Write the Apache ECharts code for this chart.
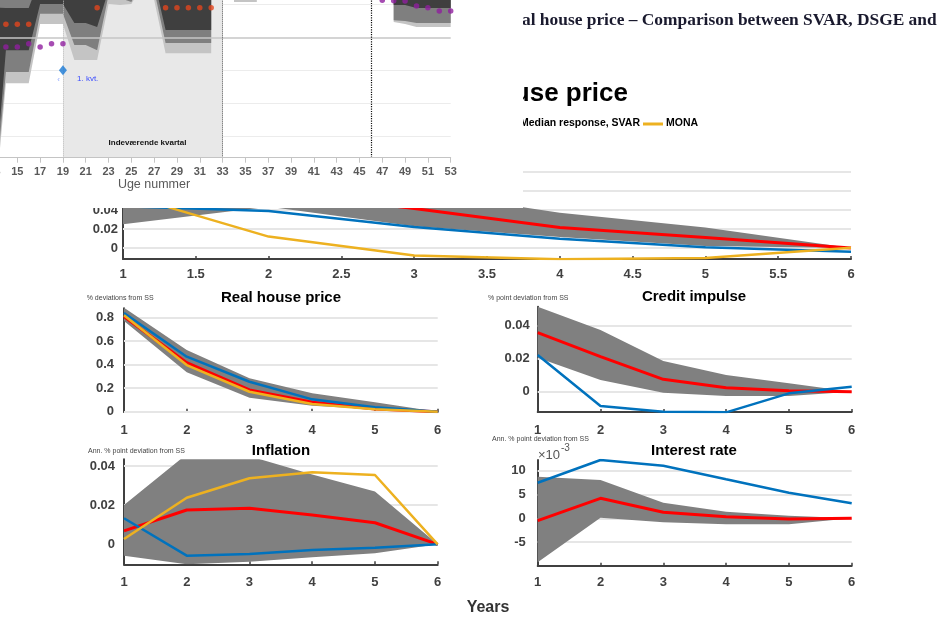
<!DOCTYPE html>
<html><head><meta charset="utf-8">
<script src="https://cdn.jsdelivr.net/npm/echarts@6/dist/echarts.min.js"></script>
<style>html,body{margin:0;padding:0;background:#fff}#c{width:948px;height:621px}</style>
</head><body><div id="c"></div><script>
// ---------- DATA ----------
const years = [1, 2, 3, 4, 5, 6];
const halfYearTicks = [1, 1.5, 2, 2.5, 3, 3.5, 4, 4.5, 5, 5.5, 6];

// Top (partly hidden) panel
const topTicks = [0, 0.02, 0.04, 0.06, 0.08];
const topBandLow  = [0.025, 0.0435, 0.023, 0.0115, 0.002, 0];
const topBandHigh = [0.10, 0.08, 0.06, 0.037, 0.0215, 0];
const topSvar = [0.08, 0.06, 0.0415, 0.0215, 0.011, 0];
const topDsge = [0.044, 0.039, 0.022, 0.0098, 0.0007, -0.0039];
const topMona = [0.057, 0.012, -0.008, -0.0118, -0.0105, 0.0003];

// Real house price
const rhpTicks = [0, 0.2, 0.4, 0.6, 0.8];
const rhpBandLow  = [0.772, 0.335, 0.119, 0.051, 0.02, 0];
const rhpBandHigh = [0.885, 0.525, 0.284, 0.156, 0.08, 0];
const rhpSvar = [0.81, 0.417, 0.185, 0.08, 0.023, 0];
const rhpDsge = [0.84, 0.468, 0.255, 0.105, 0.037, 0];
const rhpMona = [0.82, 0.397, 0.17, 0.066, 0.02, 0];

// Credit impulse
const ciTicks = [0, 0.02, 0.04];
const ciBandLow  = [0.0205, 0.0071, -0.0006, -0.0026, -0.0026, 0];
const ciBandHigh = [0.0515, 0.0374, 0.0186, 0.0101, 0.0051, 0];
const ciSvar = [0.0358, 0.0212, 0.0075, 0.0024, 0.0006, 0];
const ciDsge = [0.0222, -0.0087, -0.0121, -0.0125, -0.001, 0.003];

// Inflation
const infTicks = [0, 0.02, 0.04];
const infBandLow  = [-0.0058, -0.0102, -0.0089, -0.0066, -0.0046, 0];
const infBandHigh = [0.0201, 0.046, 0.045, 0.0357, 0.0269, 0];
const infSvar = [0.0069, 0.0175, 0.0184, 0.015, 0.011, 0];
const infDsge = [0.0133, -0.0058, -0.005, -0.0029, -0.0017, 0];
const infMona = [0.0027, 0.0238, 0.0337, 0.0368, 0.0354, 0];

// Interest rate (x 10^-3)
const irTicks = [-5, 0, 5, 10];
const irBandLow  = [-9.24, 0.13, -0.84, -1.26, -1.26, 0];
const irBandHigh = [8.74, 8.05, 3.28, 1.39, 0.55, 0];
const irSvar = [-0.5, 4.2, 1.26, 0.34, -0.15, 0];
const irDsge = [7.48, 12.25, 11.05, 8.19, 5.38, 3.15];

// Inset: weekly nowcast fan chart
const weeks = [13,14,15,16,17,18,19,20,21,22,23,24,25,26,27,28,29,30,31,32,33,34,35,36,37,38,39,40,41,42,43,44,45,46,47,48,49,50,51,52,53];
const weekTicks = [13,15,17,19,21,23,25,27,29,31,33,35,37,39,41,43,45,47,49,51,53];
const fanGridTicks = [1, -1, -2, -3];
const fanZero = [0];
const N = null;
const fanLightLo = [-5.2,-1.39,-1.39,-1.39,0.40,0.40,0.40,-0.69,-0.69,-0.69,1.01,0.98,1.01,1.6,1.13,-0.48,-0.48,-0.48,-0.48,-0.48,N,1.07,1.07,1.07,N,N,N,N,N,N,N,N,N,N,N,0.46,0.40,0.31,0.31,0.31,0.31];
const fanMedLo   = [-4.9,-1.05,-1.05,-1.05,0.71,0.71,0.71,-0.23,-0.23,-0.39,1.28,1.19,1.07,1.8,1.43,-0.17,-0.17,-0.17,-0.17,-0.17,N,1.28,1.28,1.28,N,N,N,N,N,N,N,N,N,N,N,0.52,0.49,0.43,0.43,0.43,0.43];
const fanDarkLo  = [-4.6,-0.39,-0.39,-0.39,1.01,1.01,1.01,0.43,0.43,0.31,1.43,1.43,1.19,2.0,1.74,0.22,0.22,0.22,0.22,0.22,N,1.5,1.5,1.5,N,N,N,N,N,N,N,N,N,N,N,0.98,0.98,0.89,0.89,0.89,0.89];
const fanDarkHi  = [0.9,0.89,0.89,0.89,1.8,1.8,1.8,1.8,1.8,1.8,2.2,2.2,2.2,2.8,2.5,1.58,1.58,1.58,1.58,1.58,N,2.2,2.2,2.2,N,N,N,N,N,N,N,N,N,N,N,1.6,1.6,1.6,1.6,1.6,1.6];
const fanMedHi   = [1.2,1.22,1.22,1.22,2.1,2.1,2.1,2.1,2.1,2.1,2.5,2.5,2.5,3.1,2.8,1.9,1.9,1.9,1.9,1.9,N,2.5,2.5,2.5,N,N,N,N,N,N,N,N,N,N,N,1.9,1.9,1.9,1.9,1.9,1.9];
const fanLightHi = [1.5,1.6,1.6,1.6,2.4,2.4,2.4,2.4,2.4,2.4,2.8,2.8,2.8,3.4,3.1,2.2,2.2,2.2,2.2,2.2,N,2.8,2.8,2.8,N,N,N,N,N,N,N,N,N,N,N,2.2,2.2,2.2,2.2,2.2,2.2];
const orangeWeeks = [14,15,16,22,28,29,30,31,32];
const orangeVals  = [0.394,0.394,0.394,0.897,0.897,0.897,0.897,0.897,0.897];
const purpleWeeks = [14,15,16,17,18,19,47,48,49,50,51,52,53];
const purpleVals  = [-0.294,-0.294,-0.194,-0.294,-0.194,-0.194,1.125,1.11,1.10,0.948,0.897,0.797,0.797];
const diamondWeek = [19];
const diamondVal  = [-1.0];
const quarterStart = 19, quarterEnd = 33, markWeek = 46;

// ---------- HELPERS ----------
const FONT = "'Liberation Sans', Arial, Helvetica, sans-serif";
const AX = '#404040';
const RED = '#ff0000', BLUE = '#0072bd', YEL = '#edb120', BAND = '#808080', GRIDC = '#e6e6e6';
const pairs = (xs, ys) => xs.map((x, i) => [x, ys[i] == null ? '-' : ys[i]]);
const fmt = v => String(+(+v).toFixed(5));

// polygons (one per contiguous run of non-null values) between lo and hi, via the axis scales
function bandPolygons(api, xs, lo, hi) {
  const polys = []; let run = [];
  const flush = () => {
    if (run.length > 1) {
      const up = run.map(i => api.coord([xs[i], hi[i]]));
      const dn = run.slice().reverse().map(i => api.coord([xs[i], lo[i]]));
      polys.push(up.concat(dn));
    }
    run = [];
  };
  xs.forEach((x, i) => { if (lo[i] == null || hi[i] == null) flush(); else run.push(i); });
  flush();
  return polys;
}
function bandSeries(axisIdx, xs, layers, z) {
  return {type:'custom', xAxisIndex:axisIdx, yAxisIndex:axisIdx, clip:true, silent:true, z:z,
    data: xs.map((x, i) => [x, layers[0].lo[i] == null ? '-' : layers[0].lo[i], layers[0].hi[i] == null ? '-' : layers[0].hi[i]]),
    encode:{x:0, y:[1, 2]},
    renderItem: function (params, api) {
      if (params.dataIndex !== 0) return null;
      const children = [];
      layers.forEach(L => bandPolygons(api, xs, L.lo, L.hi).forEach(pts =>
        children.push({type:'polygon', shape:{points:pts}, style:{fill:L.color}})));
      return {type:'group', children:children};
    }};
}

const panels = [
  {grid:{left:123, top:172, width:728, height:87}, yMin:-0.0116, yMax:0.08, xTicks:halfYearTicks, yTicks:topTicks, xm:9, ym:5,
   lo:topBandLow, hi:topBandHigh, svar:topSvar, dsge:topDsge, mona:topMona},
  {grid:{left:124, top:308.3, width:313.7, height:103.4}, yMin:0, yMax:0.88, xTicks:years, yTicks:rhpTicks, xm:12, ym:10,
   lo:rhpBandLow, hi:rhpBandHigh, svar:rhpSvar, dsge:rhpDsge, mona:rhpMona},
  {grid:{left:537.7, top:306.7, width:314, height:105.3}, yMin:-0.0123, yMax:0.0515, xTicks:years, yTicks:ciTicks, xm:12, ym:8,
   lo:ciBandLow, hi:ciBandHigh, svar:ciSvar, dsge:ciDsge, mona:null},
  {grid:{left:124, top:459.3, width:313.7, height:105}, yMin:-0.0102, yMax:0.0434, xTicks:years, yTicks:infTicks, xm:11.5, ym:9,
   lo:infBandLow, hi:infBandHigh, svar:infSvar, dsge:infDsge, mona:infMona},
  {grid:{left:537.7, top:460, width:314, height:105.7}, yMin:-9.96, yMax:12.25, xTicks:years, yTicks:irTicks, xm:10, ym:12,
   lo:irBandLow, hi:irBandHigh, svar:irSvar, dsge:irDsge, mona:null}
];

const grids = [], xAxes = [], yAxes = [], series = [];
panels.forEach((p, i) => {
  grids.push(Object.assign({show:false, containLabel:false, outerBoundsMode:'none'}, p.grid));
  xAxes.push({gridIndex:i, type:'value', min:1, max:6, position:'bottom',
    axisLine:{show:true, onZero:false, lineStyle:{color:AX, width:2}},
    axisTick:{show:true, inside:true, length:3, customValues:p.xTicks, lineStyle:{color:AX, width:1.5}},
    axisLabel:{show:true, customValues:p.xTicks, margin:p.xm, color:AX, fontWeight:'bold', fontSize:13, fontFamily:FONT, formatter:fmt},
    splitLine:{show:false}});
  yAxes.push({gridIndex:i, type:'value', min:p.yMin, max:p.yMax,
    axisLine:{show:true, onZero:false, lineStyle:{color:AX, width:2}},
    axisTick:{show:true, inside:true, length:4, customValues:p.yTicks, lineStyle:{color:AX, width:1.5}},
    axisLabel:{show:true, customValues:p.yTicks, margin:p.ym, color:AX, fontWeight:'bold', fontSize:13, fontFamily:FONT, formatter:fmt},
    splitLine:{show:false}});
  series.push(bandSeries(i, years, [{lo:p.lo, hi:p.hi, color:BAND}], 2));
  series.push({type:'line', xAxisIndex:i, yAxisIndex:i, data:pairs(years, p.svar), symbol:'none', silent:true,
    lineStyle:{color:RED, width:3}, z:3,
    markLine:{silent:true, symbol:['none','none'], label:{show:false}, z:1, animation:false,
      lineStyle:{color:GRIDC, width:2, type:'solid'}, emphasis:{disabled:true},
      data:p.yTicks.map(v => ({yAxis:v}))}});
  series.push({type:'line', xAxisIndex:i, yAxisIndex:i, data:pairs(years, p.dsge), symbol:'none', silent:true,
    lineStyle:{color:BLUE, width:2.5}, z:3});
  if (p.mona) series.push({type:'line', xAxisIndex:i, yAxisIndex:i, data:pairs(years, p.mona), symbol:'none', silent:true,
    lineStyle:{color:YEL, width:2.5}, z:3});
});

// ---- inset ----
const I = 5;
const yInsetMin = -3.648, yInsetMax = 1.13;
grids.push({show:false, containLabel:false, outerBoundsMode:'none', left:-5.5, top:0, width:456.2, height:157.7});
xAxes.push({gridIndex:I, type:'value', min:13, max:53, position:'bottom', z:105,
  axisLine:{show:true, onZero:false, lineStyle:{color:'#c4c4c4', width:1}},
  axisTick:{show:true, inside:false, length:5, customValues:weekTicks, lineStyle:{color:'#c4c4c4', width:1}},
  axisLabel:{show:true, customValues:weekTicks, margin:9, color:'#595959', fontWeight:'bold', fontSize:11, fontFamily:FONT},
  splitLine:{show:false}});
yAxes.push({gridIndex:I, type:'value', min:yInsetMin, max:yInsetMax, show:false});

series.push(bandSeries(I, weeks, [
  {lo:fanLightLo, hi:fanLightHi, color:'#c4c4c4'},
  {lo:fanMedLo, hi:fanMedHi, color:'#7f7f7f'},
  {lo:fanDarkLo, hi:fanDarkHi, color:'#3f3f3f'}
], 103));
series.push({type:'scatter', xAxisIndex:I, yAxisIndex:I, data:pairs(orangeWeeks, orangeVals), symbol:'circle', symbolSize:5.5,
  itemStyle:{color:'#e2461e'}, silent:true, z:106,
  markLine:{silent:true, symbol:['none','none'], label:{show:false}, z:101, animation:false,
    lineStyle:{color:'#ececec', width:1, type:'solid'}, data:fanGridTicks.map(v => ({yAxis:v}))},
  markArea:{silent:true, z:102, itemStyle:{color:'#e8e8e8'}, label:{show:false},
    data:[[{xAxis:quarterStart}, {xAxis:quarterEnd}]]}});
series.push({type:'scatter', xAxisIndex:I, yAxisIndex:I, data:pairs(purpleWeeks, purpleVals), symbol:'circle', symbolSize:5.5,
  itemStyle:{color:'#901f9f'}, silent:true, z:106,
  markLine:{silent:true, symbol:['none','none'], label:{show:false}, z:104, animation:false,
    data:[
      {yAxis:fanZero[0], lineStyle:{color:'#c6c6c6', width:1.5, type:'solid'}},
      {xAxis:quarterStart, lineStyle:{color:'#bdbdbd', width:1, type:'dotted'}},
      {xAxis:quarterEnd, lineStyle:{color:'#555555', width:1, type:'dotted'}},
      {xAxis:markWeek, lineStyle:{color:'#111111', width:1.2, type:'dotted'}}
    ]}});
series.push({type:'scatter', xAxisIndex:I, yAxisIndex:I, data:pairs(diamondWeek, diamondVal), symbol:'diamond', symbolSize:[8,10],
  itemStyle:{color:'#1878d4'}, silent:true, z:106});

// ---------- TEXTS ----------
function txt(t, x, y, font, fill, align, valign, z) {
  return {type:'text', z:z || 0, silent:true, style:{text:t, x:x, y:y, font:font, fill:fill,
    align:align || 'left', textAlign:align || 'left', verticalAlign:valign || 'middle', textVerticalAlign:valign || 'middle'}};
}
const B = (s) => 'bold ' + s + 'px ' + FONT;
const R = (s) => s + 'px ' + FONT;
const graphics = [
  txt('Real house price \u2013 Comparison between SVAR, DSGE and', 501.7, 20.8, "bold 17.4px 'Liberation Serif', 'Times New Roman', serif", '#1a1a2e'),
  txt('Real house price', 628, 94, B(26), '#000', 'right'),
  {type:'line', z:0, silent:true, shape:{x1:490, y1:124, x2:512, y2:124}, style:{stroke:RED, lineWidth:3}},
  txt('Median response, SVAR', 640, 123.5, B(10.5), '#000', 'right'),
  {type:'line', z:0, silent:true, shape:{x1:643, y1:124, x2:663, y2:124}, style:{stroke:YEL, lineWidth:3}},
  txt('MONA', 666, 123.5, B(10.5), '#000'),
  txt('Real house price', 281, 297.5, B(15), '#000', 'center'),
  txt('% deviations from SS', 86.7, 297.7, R(7), '#444'),
  txt('Credit impulse', 694, 296.5, B(15), '#000', 'center'),
  txt('% point deviation from SS', 488, 297.7, R(7), '#444'),
  txt('Inflation', 281, 450.5, B(15), '#000', 'center'),
  txt('Ann. % point deviation from SS', 88, 451, R(7), '#444'),
  txt('Interest rate', 694, 450.5, B(15), '#000', 'center'),
  txt('Ann. % point deviation from SS', 492, 439, R(7), '#444'),
  txt('\u00d710', 538, 455, R(13), '#555'),
  txt('-3', 561, 448.5, R(10), '#555'),
  txt('Years', 488, 607.7, B(16), '#333', 'center'),
  // cover (the inset sits on top of the main figure)
  {type:'rect', z:100, silent:true, shape:{x:0, y:0, width:523, height:208}, style:{fill:'#ffffff'}},
  txt('Uge nummer', 154, 184.6, R(12.5), '#595959', 'center', 'middle', 107),
  txt('Indev\u00e6rende kvartal', 147.5, 142.7, B(8), '#111', 'center', 'middle', 107),
  txt('1. kvt.', 77, 79, R(8), '#3b4cff', 'left', 'middle', 107),
  txt('\u2039', 58.5, 79.5, R(8), '#8fa8ff', 'center', 'middle', 107)
];

const chart = echarts.init(document.getElementById('c'), null, {renderer:'canvas'});
chart.setOption({
  animation:false,
  backgroundColor:'#ffffff',
  grid:grids, xAxis:xAxes, yAxis:yAxes, series:series,
  graphic:{elements:graphics}
});
</script></body></html>
